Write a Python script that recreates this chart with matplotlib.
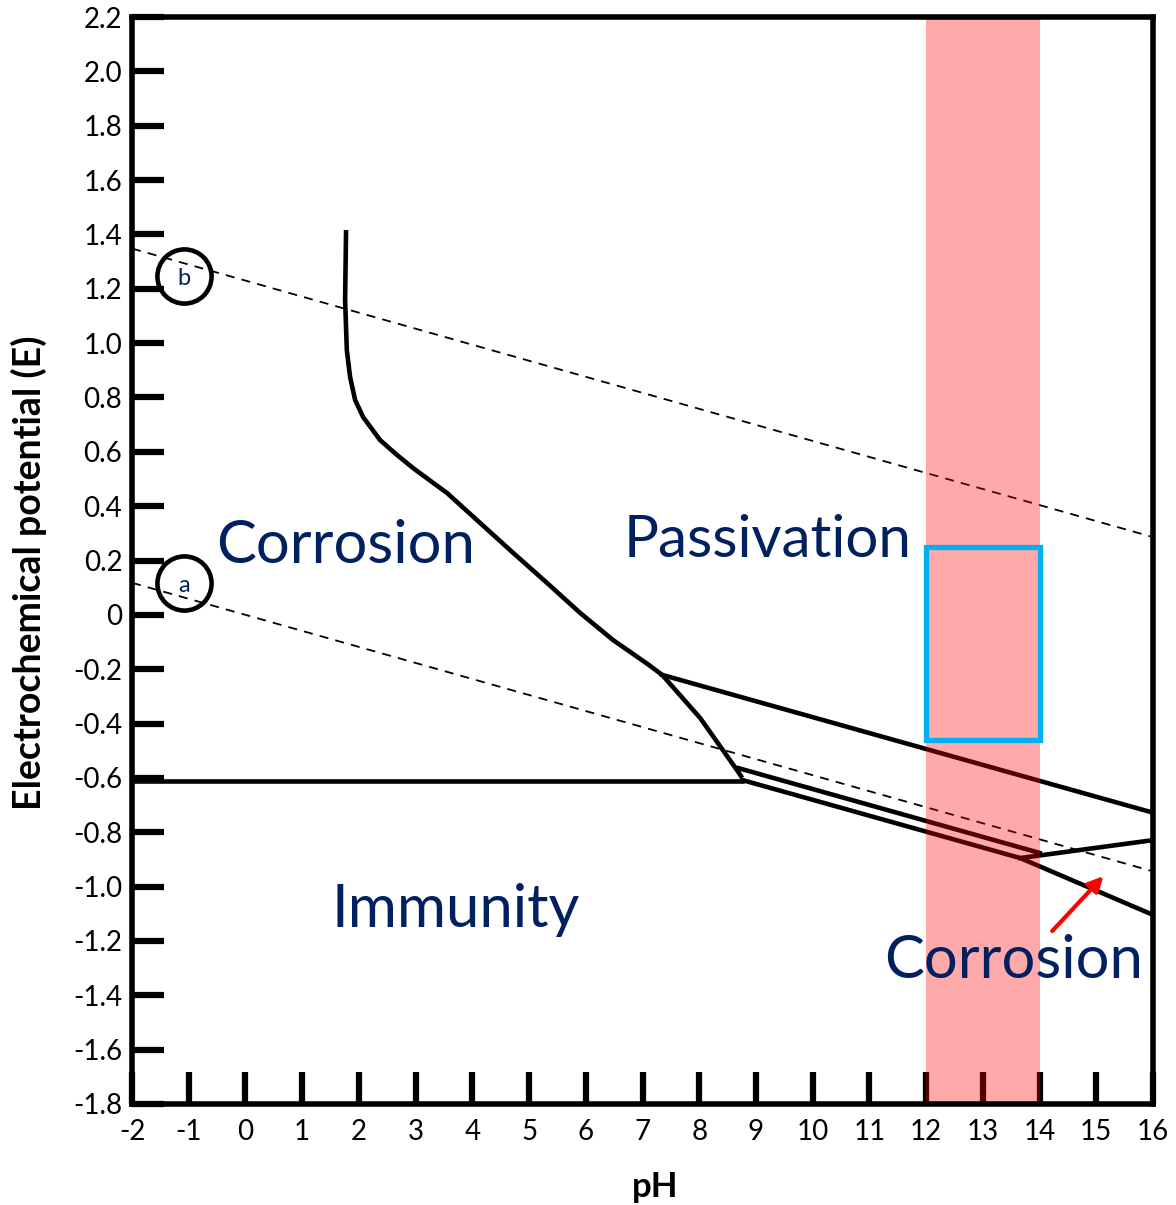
import matplotlib
matplotlib.use("Agg")
import matplotlib.pyplot as plt
from matplotlib.patches import Rectangle

plt.rcParams['font.family'] = ['Lato', 'DejaVu Sans']

navy = '#002060'

# water stability lines (dashed)
ph_water = [-2, 16]
e_water_a = [0.118, -0.944]
e_water_b = [1.348, 0.286]

# boundary between corrosion (acid) and passivation
curve_ph = [1.774, 1.757, 1.787, 1.845, 1.933, 2.074, 2.374, 2.674, 2.956, 3.556, 4.138,
            4.720, 5.319, 5.901, 6.483, 7.083, 7.347, 8.018, 8.688, 8.758]
curve_e = [1.416, 1.159, 0.975, 0.875, 0.791, 0.728, 0.643, 0.588, 0.540, 0.448, 0.338,
           0.228, 0.117, 0.007, -0.093, -0.180, -0.221, -0.380, -0.578, -0.600]

# immunity boundary
immune_ph = [-2, 8.76]
immune_e = [-0.611, -0.611]

# sloped oxide boundaries
oxide_ph = [7.347, 16.0]
oxide_e = [-0.221, -0.728]
mid_ph = [8.69, 14.0]
mid_e = [-0.564, -0.876]
low_ph = [8.76, 13.66, 16.0]
low_e = [-0.608, -0.895, -1.104]
alk_ph = [13.66, 16.0]
alk_e = [-0.895, -0.829]

# circled markers for the water lines
mark_ph = [-1.08, -1.08]
mark_e = [1.247, 0.117]
mark_txt = ['b', 'a']

band = (12, 14)
box_e = (-0.46, 0.248)

fig = plt.figure(figsize=(11.76, 12.05), dpi=100)
ax = fig.add_axes([132/1176, 101/1205, 1021/1176, 1087/1205])

ax.plot(ph_water, e_water_a, 'k--', lw=1.3, dashes=(5, 4), zorder=2)
ax.plot(ph_water, e_water_b, 'k--', lw=1.3, dashes=(5, 4), zorder=2)

lw = 3.3
ax.plot(curve_ph, curve_e, 'k', lw=lw, solid_capstyle='butt', solid_joinstyle='round', zorder=2)
ax.plot(immune_ph, immune_e, 'k', lw=lw, zorder=2)
ax.plot(oxide_ph, oxide_e, 'k', lw=lw, zorder=2)
ax.plot(mid_ph, mid_e, 'k', lw=lw, zorder=2)
ax.plot(low_ph, low_e, 'k', lw=lw, zorder=2)
ax.plot(alk_ph, alk_e, 'k', lw=lw, zorder=2)

ax.plot(mark_ph, mark_e, 'o', ms=39, mfc='none', mec='black', mew=3.3, zorder=3)
for x, y, t in zip(mark_ph, mark_e, mark_txt):
    ax.text(x, y - 0.01, t, color=navy, fontsize=17, ha='center', va='center', zorder=4)

# pH range band and region of interest
ax.axvspan(band[0], band[1], color='#ff0000', alpha=0.335, lw=0, zorder=3)
ax.add_patch(Rectangle((band[0], box_e[0]), band[1]-band[0], box_e[1]-box_e[0],
                       fill=False, ec='#00b0f0', lw=3.8, zorder=4))

ax.annotate('', xy=(15.16, -0.954), xytext=(14.19, -1.171),
            arrowprops=dict(arrowstyle='-|>', color='red', lw=3, mutation_scale=22),
            zorder=4)

ax.text(1.757, 0.191, 'Corrosion', color=navy, fontsize=43, ha='center', va='baseline')
ax.text(9.2, 0.213, 'Passivation', color=navy, fontsize=42, ha='center', va='baseline')
ax.text(3.714, -1.149, 'Immunity', color=navy, fontsize=43, ha='center', va='baseline')
ax.text(13.54, -1.336, 'Corrosion', color=navy, fontsize=43, ha='center', va='baseline')

ax.set_xlim(-2, 16)
ax.set_ylim(-1.8, 2.2)

xt = list(range(-2, 17))
ax.set_xticks(xt)
ax.set_xticklabels([str(v) for v in xt])
yt = [round(-1.8 + 0.2*i, 1) for i in range(21)]
ax.set_yticks(yt)
ax.set_yticklabels(['0' if v == 0 else ('%.1f' % v) for v in yt])

ax.tick_params(direction='in', length=23, width=4.5, labelsize=20, color='black')
ax.tick_params(axis='y', pad=7)
ax.tick_params(axis='x', pad=11)

for s in ax.spines.values():
    s.set_linewidth(4)
    s.set_zorder(5)

ax.set_xlabel('pH', fontsize=25, fontweight='bold')
ax.set_ylabel('Electrochemical potential (E)', fontsize=27, fontweight='bold')
ax.xaxis.set_label_coords(0.512, -0.062)
ax.yaxis.set_label_coords(-0.083, 0.489)

fig.savefig('out.png', dpi=100)
